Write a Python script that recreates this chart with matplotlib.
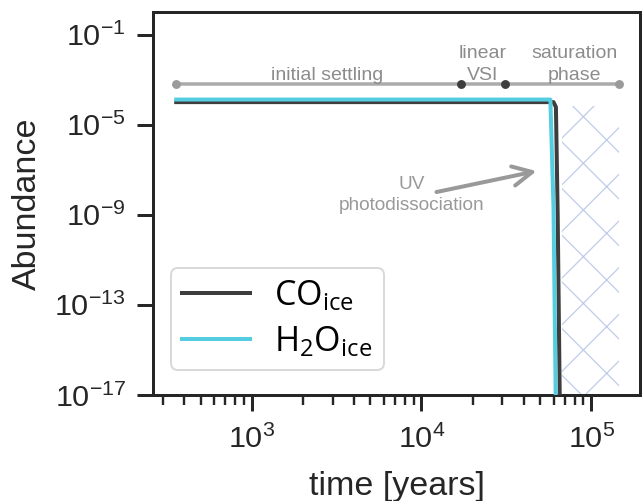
import matplotlib
matplotlib.use("Agg")
import matplotlib.pyplot as plt
from matplotlib.ticker import (FixedLocator, LogLocator, NullLocator,
                               NullFormatter, LogFormatterSciNotation)
import numpy as np

# --- data -------------------------------------------------------------
t_co = [359, 6.0e4, 6.2e4, 6.35e4, 6.55e4]
ab_co = [1.0e-4, 1.0e-4, 6.0e-5, 1.0e-9, 1.0e-18]

t_h2o = [359, 5.75e4, 6.0e4, 6.2e4]
ab_h2o = [1.3e-4, 1.3e-4, 2.0e-9, 1.0e-18]

phase_edges = [359, 1.72e4, 3.09e4, 1.45e5]
phase_level = 6.5e-4
phase_names = ["initial settling", "linear\nVSI", "saturation\nphase"]
phase_label_x = [2.79e3, 2.3e4, 8.0e4]
phase_label_y = [9.5e-4, 9.5e-4, 9.5e-4]

sat_span = [6.7e4, 1.45e5]
sat_top = 6.8e-5

uv_text_xy = (8.73e3, 7.6e-9)
uv_arrow_start = (1.226e4, 1.02e-8)
uv_arrow_tip = (4.77e4, 8.7e-8)

y_ticks = [1e-17, 1e-13, 1e-9, 1e-5, 1e-1]
x_ticks = [1e3, 1e4, 1e5]

DPI = 280
W, H = 643, 501


def pt(px):
    return px * 72.0 / DPI


plt.rcParams["font.family"] = ["Liberation Sans", "DejaVu Sans"]
plt.rcParams["hatch.linewidth"] = pt(1.3)

fig = plt.figure(figsize=(W / DPI, H / DPI), dpi=DPI)
ax = fig.add_axes([153 / W, 1 - 395 / H, (640 - 153) / W, (395 - 12) / H])

ax.set_xscale("log")
ax.set_yscale("log")
ax.set_xlim(262, 1.94e5)
ax.set_ylim(1e-17, 1.0)

# saturation-phase hatched region
ax.fill_between(sat_span, [1e-17, 1e-17], [sat_top, sat_top],
                facecolor="none", edgecolor="#c2cdea", hatch="xx",
                linewidth=0, zorder=1)

# abundance curves
ax.plot(t_co, ab_co, color="#3d3d3d", lw=pt(4.0), label=r"$\mathdefault{CO_{ice}}$",
        solid_joinstyle="round", zorder=3)
ax.plot(t_h2o, ab_h2o, color="#55cde0", lw=pt(4.0), label=r"$\mathdefault{H_2O_{ice}}$",
        solid_joinstyle="round", zorder=4)

# phase bar
ax.plot(phase_edges, [phase_level] * len(phase_edges), color="#ababab",
        lw=pt(3.5), zorder=2, solid_capstyle="butt")
ax.plot([phase_edges[0], phase_edges[-1]], [phase_level] * 2, ls="none",
        marker="o", ms=pt(5), color="#9a9a9a", zorder=3)
ax.plot(phase_edges[1:-1], [phase_level] * 2, ls="none",
        marker="o", ms=pt(5), color="#3d3d3d", zorder=3)

ann_font = dict(size=pt(19.5), color="#8c8c8c")
for x, y, name in zip(phase_label_x, phase_label_y, phase_names):
    ax.text(x, y, name, ha="center", va="baseline", linespacing=1.38, **ann_font)

# UV photodissociation arrow
ax.text(*uv_text_xy, "UV\nphotodissociation", ha="center", va="center",
        linespacing=1.25, size=pt(19), color="#999999", zorder=5)
ax.annotate("", xy=uv_arrow_tip, xytext=uv_arrow_start,
            arrowprops=dict(arrowstyle="->,head_length=0.5,head_width=0.25",
                            color="#999999", lw=pt(4.0),
                            shrinkA=0, shrinkB=0),
            zorder=5)

# axes styling
for s in ax.spines.values():
    s.set_linewidth(pt(3.0))
    s.set_color("#262626")

ax.yaxis.set_major_locator(FixedLocator(y_ticks))
ax.yaxis.set_minor_locator(NullLocator())
ax.xaxis.set_major_locator(FixedLocator(x_ticks))
ax.xaxis.set_minor_locator(LogLocator(base=10, subs=np.arange(2, 10)))
ax.xaxis.set_minor_formatter(NullFormatter())
ax.xaxis.set_major_formatter(LogFormatterSciNotation())
ax.yaxis.set_major_formatter(LogFormatterSciNotation())

ax.tick_params(axis="both", which="major", length=pt(16), width=pt(3.0),
               color="#262626", labelsize=pt(30.5), labelcolor="#262626")
ax.tick_params(axis="x", which="major", pad=pt(14))
ax.tick_params(axis="y", which="major", pad=pt(11))
ax.tick_params(axis="both", which="minor", length=pt(10), width=pt(2.4),
               color="#262626")
ax.tick_params(top=False, right=False, which="both")

ax.set_xlabel("time [years]", fontsize=pt(34), color="#262626", labelpad=pt(17))
ax.set_ylabel("Abundance", fontsize=pt(34), color="#262626", labelpad=pt(12))

leg = ax.legend(loc="lower left", bbox_to_anchor=(0.037, 0.065), borderaxespad=0,
                prop=dict(family=["Open Sans", "DejaVu Sans"], size=pt(34)),
                frameon=True, fancybox=True, handlelength=2.0, handletextpad=0.72,
                labelspacing=0.33, borderpad=0.32)
leg.get_frame().set_edgecolor("#d0d0d0")
leg.get_frame().set_linewidth(pt(2.0))
for line in leg.get_lines():
    line.set_linewidth(pt(4.0))

fig.savefig("out.png", dpi=DPI)
